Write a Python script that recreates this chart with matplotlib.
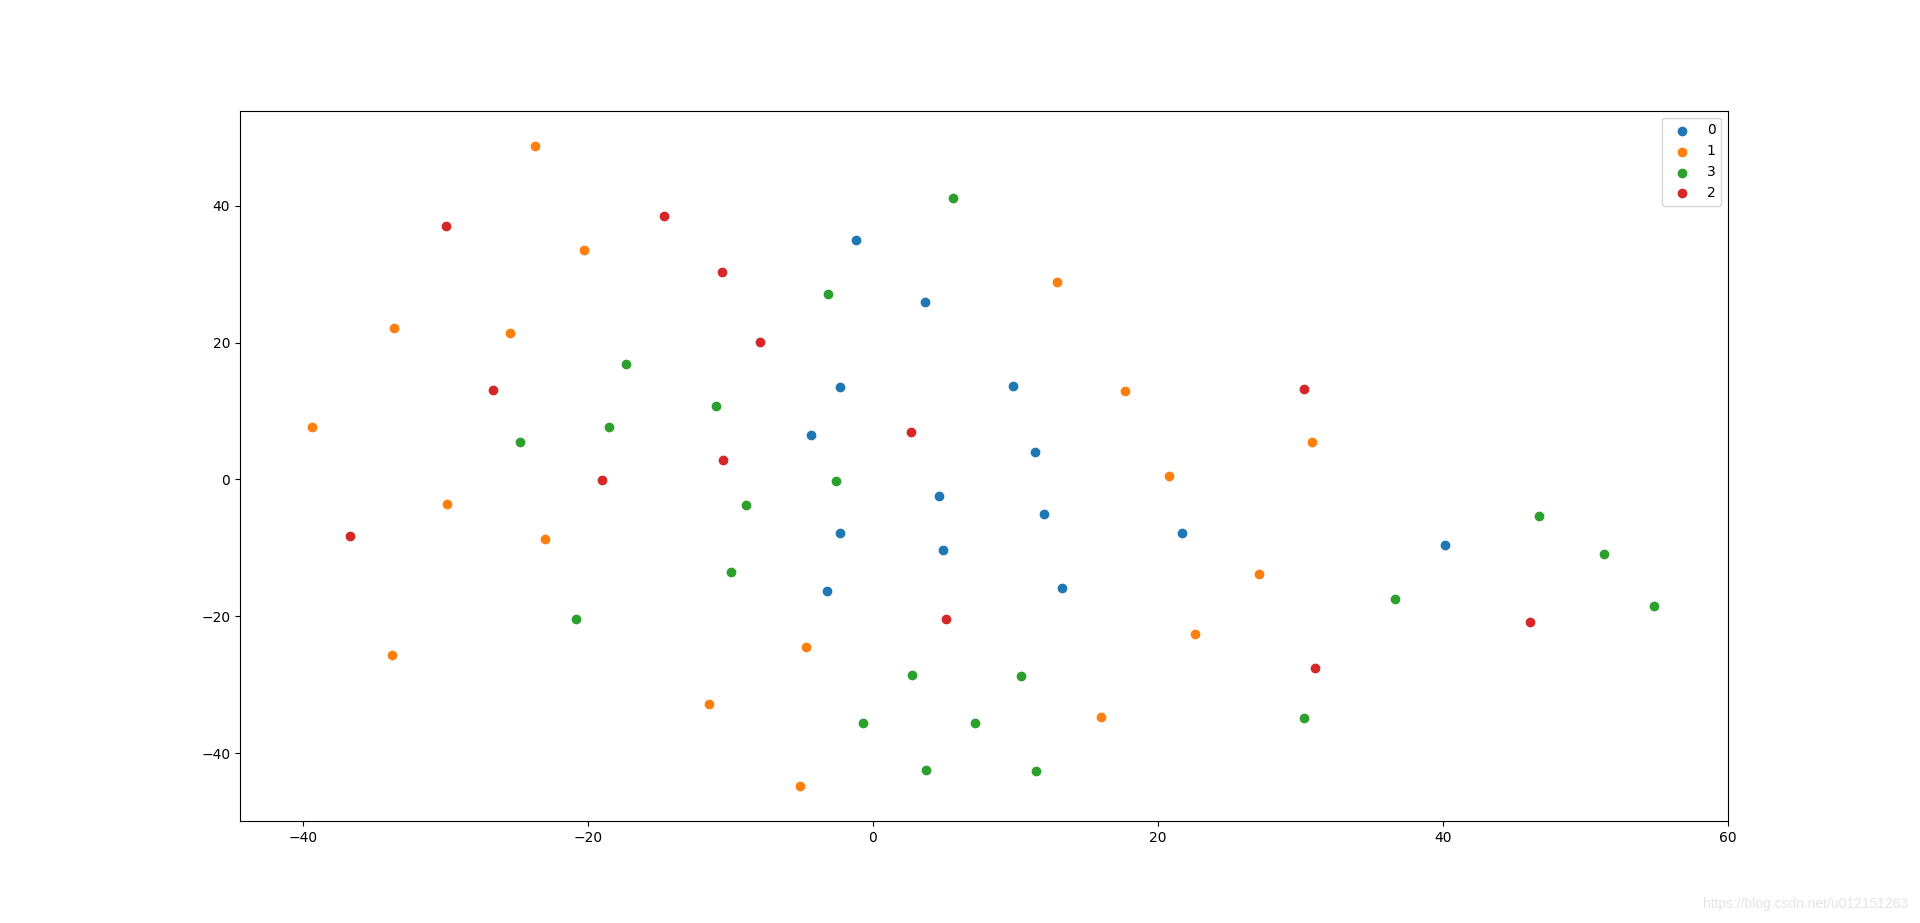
import matplotlib
matplotlib.use('Agg')
import matplotlib.pyplot as plt

# cluster 0
x0 = [-1.15, 3.69, -2.27, 9.80, -4.31, 11.41, 4.67, 12.04, -2.27, 21.66, 4.95, 40.11, 13.24, -3.19]
y0 = [34.94, 25.88, 13.45, 13.60, 6.43, 3.95, -2.49, -5.12, -7.89, -7.89, -10.38, -9.65, -15.94, -16.37]

# cluster 1
x1 = [-23.68, -20.24, -33.57, -25.43, -39.33, 12.95, 17.66, 30.78, 20.75, -29.85, -22.98, 27.06,
      22.57, -4.66, -33.71, -11.47, 16.04, -5.08]
y1 = [48.68, 33.48, 22.08, 21.43, 7.60, 28.80, 12.87, 5.41, 0.44, -3.65, -8.77, -13.89,
      -22.66, -24.56, -25.73, -32.89, -34.80, -44.88]

# cluster 3
x3 = [5.66, -3.12, -17.29, -10.98, -18.48, -24.73, -2.55, -8.87, -9.92, 46.71, 51.27, 36.67, 54.78,
      -20.80, 2.78, 10.43, -0.66, 7.20, 30.22, 3.76, 11.48]
y3 = [41.08, 27.05, 16.81, 10.67, 7.60, 5.41, -0.29, -3.80, -13.60, -5.41, -10.96, -17.54, -18.57,
      -20.47, -28.65, -28.80, -35.67, -35.67, -34.94, -42.54, -42.69]

# cluster 2
x2 = [-14.62, -29.96, -10.55, -7.89, -26.62, 30.22, 2.71, -10.48, -18.98, -36.66, 5.16, 46.08, 30.99]
y2 = [38.45, 36.99, 30.26, 20.03, 13.01, 13.25, 6.87, 2.78, -0.15, -8.33, -20.47, -20.91, -27.63]

fig = plt.figure(figsize=(19.2, 9.23), dpi=100)
plt.scatter(x0, y0, label='0')
plt.scatter(x1, y1, label='1')
plt.scatter(x3, y3, label='3')
plt.scatter(x2, y2, label='2')
plt.xlim(-44.4, 60.0)
plt.ylim(-50.0, 53.9)
plt.legend(loc='upper right')

fig.text(0.9937, 0.0206, 'https://blog.csdn.net/u012151283', ha='right', va='center',
         fontsize=10, color='#e4e4e4', family='Liberation Sans')

plt.savefig('out.png', format='png')
